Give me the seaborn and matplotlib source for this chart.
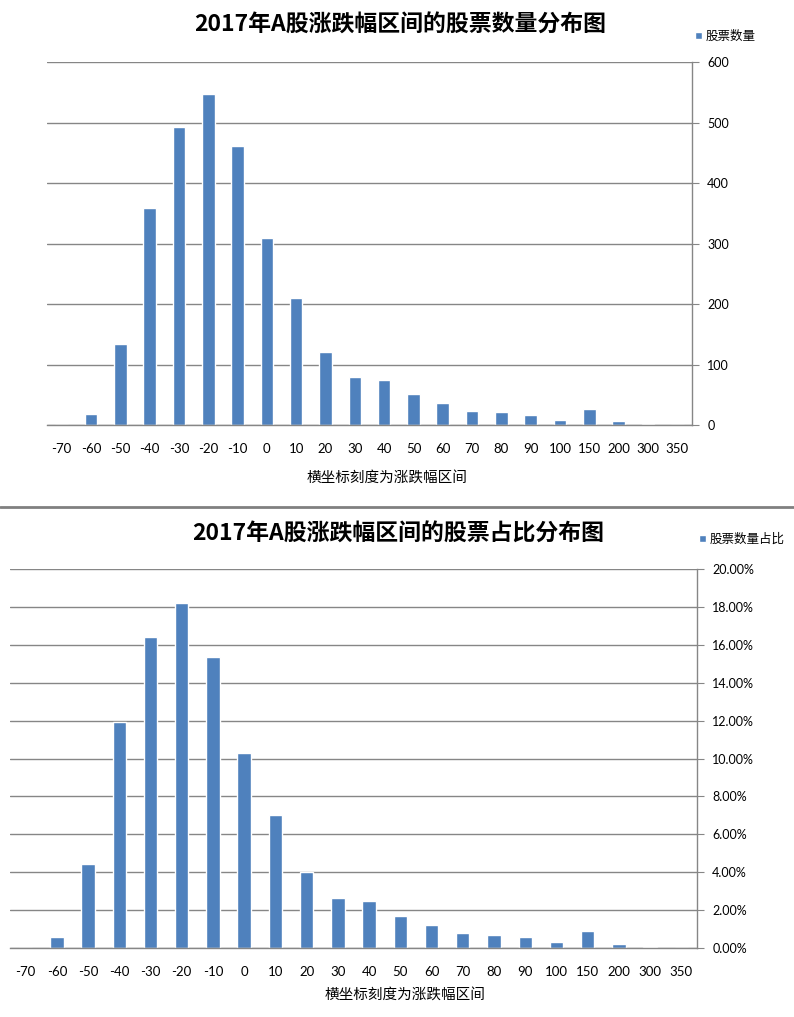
import matplotlib
matplotlib.use("Agg")
import matplotlib.pyplot as plt
from matplotlib.lines import Line2D
from matplotlib.ticker import FixedLocator, FuncFormatter
import seaborn as sns
import pandas as pd

# 涨跌幅区间 (x axis categories)
ranges = ["-70", "-60", "-50", "-40", "-30", "-20", "-10", "0", "10", "20",
          "30", "40", "50", "60", "70", "80", "90", "100", "150", "200", "300", "350"]
# 股票数量 per range
counts = [0, 18, 134, 359, 493, 547, 461, 309, 210, 121,
          79, 74, 51, 36, 23, 21, 17, 9, 27, 6, 2, 0]
# 股票数量占比 (%) per range
shares = [0.0, 0.60, 4.45, 11.95, 16.40, 18.22, 15.36, 10.30, 7.00, 4.03,
          2.63, 2.47, 1.70, 1.20, 0.77, 0.70, 0.57, 0.30, 0.90, 0.20, 0.07, 0.0]

BAR = "#4F81BD"
GRID = "#868686"
CJK = ["Noto Sans CJK SC", "DejaVu Sans"]
NUM = ["Lato", "Noto Sans CJK SC", "DejaVu Sans"]

sns.set_style("white")
plt.rcParams["font.family"] = NUM
plt.rcParams["text.color"] = "black"
plt.rcParams["xtick.labelcolor"] = "black"
plt.rcParams["ytick.labelcolor"] = "black"

df = pd.DataFrame({"range": ranges, "count": counts, "share": shares})

fig = plt.figure(figsize=(7.94, 10.17), dpi=100)


def style_axis(ax, ylim, yticks, fmt):
    n = len(ranges)
    ax.set_xlim(-0.5, n - 0.5)
    ax.set_ylim(*ylim)
    ax.yaxis.tick_right()
    ax.set_yticks(yticks)
    ax.yaxis.set_major_formatter(FuncFormatter(fmt))
    ax.grid(axis="y", color=GRID, linewidth=1)
    ax.set_axisbelow(True)
    for s in ["top", "left"]:
        ax.spines[s].set_visible(False)
    for s in ["bottom", "right"]:
        ax.spines[s].set_color(GRID)
        ax.spines[s].set_linewidth(1)
    # ticks between categories, like the Excel original
    ax.xaxis.set_minor_locator(FixedLocator([i - 0.5 for i in range(n + 1)]))
    ax.tick_params(axis="x", which="major", length=0, pad=13, labelsize=9.5,
                   labelcolor="black")
    ax.tick_params(axis="x", which="minor", length=5, color=GRID, direction="out")
    ax.tick_params(axis="y", which="major", length=5, color=GRID, direction="out",
                   pad=6, labelsize=9, right=True, left=False, labelcolor="black")
    ax.set_xlabel("")
    ax.set_ylabel("")


def add_legend(ax, x, y):
    ax.legend(loc="center left", bbox_to_anchor=(x, y), bbox_transform=fig.transFigure,
              frameon=False, handlelength=0.55, handleheight=0.55, handletextpad=0.3,
              borderpad=0, labelcolor="black", prop={"family": CJK, "size": 9})


# top chart: counts
ax1 = fig.add_axes([0.0592, 0.5821, 0.8123, 0.3569])
sns.barplot(data=df, x="range", y="count", order=ranges, color=BAR,
            width=0.43, saturation=1, ax=ax1, label="股票数量")
style_axis(ax1, (0, 600), range(0, 601, 100), lambda v, p: f"{int(v)}")
add_legend(ax1, 0.868, 0.9643)
fig.text(0.504, 0.9754, "2017年A股涨跌幅区间的股票数量分布图", ha="center", va="center",
         fontsize=16.5, fontweight="bold", family=CJK, color="black")
fig.text(0.487, 0.530, "横坐标刻度为涨跌幅区间", ha="center", va="center",
         fontsize=10.5, family=CJK, color="black")

# separator between the two charts
fig.add_artist(Line2D([0, 1], [0.5015, 0.5015], color="#808080", linewidth=2,
                      transform=fig.transFigure))

# bottom chart: share in percent
ax2 = fig.add_axes([0.0126, 0.0678, 0.8652, 0.3727])
sns.barplot(data=df, x="range", y="share", order=ranges, color=BAR,
            width=0.43, saturation=1, ax=ax2, label="股票数量占比")
style_axis(ax2, (0, 20), [i * 2 for i in range(11)], lambda v, p: f"{v:.2f}%")
add_legend(ax2, 0.873, 0.4695)
fig.text(0.502, 0.4748, "2017年A股涨跌幅区间的股票占比分布图", ha="center", va="center",
         fontsize=16.5, fontweight="bold", family=CJK, color="black")
fig.text(0.510, 0.0216, "横坐标刻度为涨跌幅区间", ha="center", va="center",
         fontsize=10.5, family=CJK, color="black")

fig.savefig("out.png", dpi=100)
